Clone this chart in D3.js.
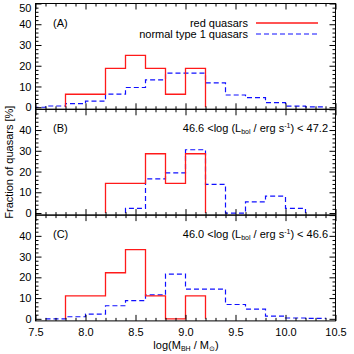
<!DOCTYPE html>
<html>
<head>
<meta charset="utf-8">
<script src="https://cdn.jsdelivr.net/npm/d3@7"></script>
<style>
  body { margin: 0; background: #fff; }
  svg { font-family: "Liberation Sans", Arial, sans-serif; }
  .tick text { font-size: 11px; fill: #000; }
</style>
</head>
<body>
<div id="chart"></div>
<script>
const binWidth = 0.2

// red quasars, fraction [%] per 0.2 dex bin
const redStart = [7.8, 8.2, 7.8]
const redA = [6.25, 6.25, 18.75, 25, 18.75, 6.25, 18.75]
const redB = [14.29, 14.29, 28.57, 14.29, 28.57]
const redC = [11.11, 11.11, 22.22, 33.33, 11.11, 0, 11.11]

// normal type 1 quasars
const blueStart = [7.4, 8.4, 7.6]
const blueA = [0, 0.6, 1.7, 2.9, 6.3, 9.5, 13.2, 16.4, 16.4, 11.7, 5.9, 4.6, 2.2, 0.5, 0.2]
const blueB = [2.2, 16.5, 19.4, 30.5, 13.8, 0, 5.4, 8.1, 2.2]
const blueC = [0, 1.0, 2.3, 6.3, 8.8, 11.5, 21.5, 14.3, 14.3, 6.9, 4.7, 1.3, 0.4, 0.2]

const panelNames = ["(A)", "(B)", "(C)"]
const lumLabels = [null, ["46.6", "47.2"], ["46.0", "46.6"]]
const yLabelTicks = [[0, 10, 20, 30, 40, 50], [0, 10, 20, 30, 40], [0, 10, 20, 30, 40]]
const xLabelTicks = [7.5, 8.0, 8.5, 9.0, 9.5, 10.0, 10.5]
const legendNames = ["red quasars", "normal type 1 quasars"]

const reds = [redA, redB, redC]
const blues = [blueA, blueB, blueC]

const width = 354
const height = 354
const margin = {top: 3.5, left: 35.5, right: 18.5}
const panelH = 105.8

const svg = d3.select("#chart")
    .append("svg")
    .attr("width", width)
    .attr("height", height)

const x = d3.scaleLinear()
    .domain([7.5, 10.5])
    .range([margin.left, width - margin.right])

const xMinor = d3.range(76, 105).map(d => d / 10).filter(d => Math.round(d * 10) % 5 !== 0)
const yMinor = d3.range(2, 50, 2).filter(d => d % 10 !== 0)

svg.append("clipPath").attr("id", "clip")
    .append("rect")
    .attr("x", margin.left).attr("y", 0)
    .attr("width", width - margin.left - margin.right).attr("height", height)

// step outline of a histogram
const stepPoints = (start, values) => {
    const pts = [[start, 0]]
    values.forEach((v, i) => {
        pts.push([start + i * binWidth, v])
        pts.push([start + (i + 1) * binWidth, v])
    })
    pts.push([start + values.length * binWidth, 0])
    return pts
}

panelNames.forEach((name, p) => {
    const top = margin.top + p * panelH
    const y = d3.scaleLinear().domain([-1, 50]).range([top + panelH, top])
    const g = svg.append("g")
    const line = d3.line().x(d => x(d[0])).y(d => y(d[1]))

    // histograms
    const hist = g.append("g").attr("clip-path", "url(#clip)").attr("fill", "none")
    hist.append("path")
        .attr("d", line(stepPoints(blueStart[p], blues[p])))
        .attr("stroke", "#1010ff")
        .attr("stroke-width", 1.2)
        .attr("stroke-dasharray", "5,3")
    hist.append("path")
        .attr("d", line(stepPoints(redStart[p], reds[p])))
        .attr("stroke", "#ff1a1a")
        .attr("stroke-width", 1.3)

    // frame
    g.append("rect")
        .attr("x", margin.left).attr("y", top)
        .attr("width", x.range()[1] - margin.left).attr("height", panelH)
        .attr("fill", "none").attr("stroke", "#000").attr("stroke-width", 1)

    // x ticks, inward, bottom and top
    const bottom = g.append("g").attr("transform", `translate(0,${top + panelH})`)
    bottom.append("g").call(d3.axisBottom(x).tickValues(xMinor).tickSize(-3).tickFormat(""))
    bottom.append("g").call(d3.axisBottom(x).tickValues(xLabelTicks).tickSize(-6).tickPadding(7)
        .tickFormat(p === 2 ? d3.format(".1f") : ""))
    const topAxis = g.append("g").attr("transform", `translate(0,${top})`)
    topAxis.append("g").call(d3.axisTop(x).tickValues(xMinor).tickSize(-3).tickFormat(""))
    topAxis.append("g").call(d3.axisTop(x).tickValues(xLabelTicks).tickSize(-6).tickFormat(""))

    // y ticks, inward, left and right
    const left = g.append("g").attr("transform", `translate(${margin.left},0)`)
    left.append("g").call(d3.axisLeft(y).tickValues(yMinor).tickSize(-3).tickFormat(""))
    left.append("g").call(d3.axisLeft(y).tickValues(yLabelTicks[p]).tickSize(-6).tickPadding(4))
        .call(a => a.selectAll(".tick text").filter(d => d === 50).attr("dy", "0.75em"))
    const right = g.append("g").attr("transform", `translate(${x.range()[1]},0)`)
    right.append("g").call(d3.axisRight(y).tickValues(yMinor).tickSize(-3).tickFormat(""))
    right.append("g").call(d3.axisRight(y).tickValues(d3.range(0, 51, 10)).tickSize(-6).tickFormat(""))

    g.selectAll(".domain").remove()
    g.selectAll(".tick line").attr("stroke", "#000")

    // panel label
    g.append("text")
        .attr("x", 53).attr("y", top + 23)
        .attr("font-size", 11)
        .text(name)

    // luminosity range
    if (lumLabels[p]) {
        const t = g.append("text")
            .attr("x", 328).attr("y", top + 23)
            .attr("text-anchor", "end")
            .attr("font-size", 11)
        t.append("tspan").text(`${lumLabels[p][0]} <log (L`)
        t.append("tspan").attr("font-size", 7).attr("dy", 2).text("bol")
        t.append("tspan").attr("dy", -2).text(" / erg s")
        t.append("tspan").attr("font-size", 7).attr("dy", -4).text("-1")
        t.append("tspan").attr("dy", 4).text(`) < ${lumLabels[p][1]}`)
    }
})

// legend
const legend = svg.append("g")
legendNames.forEach((name, i) => {
    const ly = 23 + i * 11
    legend.append("text")
        .attr("x", 248).attr("y", ly)
        .attr("dy", "0.35em")
        .attr("text-anchor", "end")
        .attr("font-size", 11)
        .text(name)
    legend.append("line")
        .attr("x1", 256).attr("x2", 318)
        .attr("y1", ly).attr("y2", ly)
        .attr("stroke", i === 0 ? "#ff1a1a" : "#1010ff")
        .attr("stroke-width", i === 0 ? 1.3 : 1.2)
        .attr("stroke-dasharray", i === 0 ? null : "5,3")
})

// axis titles
svg.append("text")
    .attr("transform", `translate(13,${margin.top + 1.5 * panelH}) rotate(-90)`)
    .attr("text-anchor", "middle")
    .attr("font-size", 11)
    .text("Fraction of quasars [%]")

const xt = svg.append("text")
    .attr("x", 186).attr("y", 349)
    .attr("text-anchor", "middle")
    .attr("font-size", 11)
xt.append("tspan").text("log(M")
xt.append("tspan").attr("font-size", 7).attr("dy", 2).text("BH")
xt.append("tspan").attr("dy", -2).text(" / M")
xt.append("tspan").attr("font-size", 7).attr("dy", 2).text("⊙")
xt.append("tspan").attr("dy", -2).text(")")
</script>
</body>
</html>
